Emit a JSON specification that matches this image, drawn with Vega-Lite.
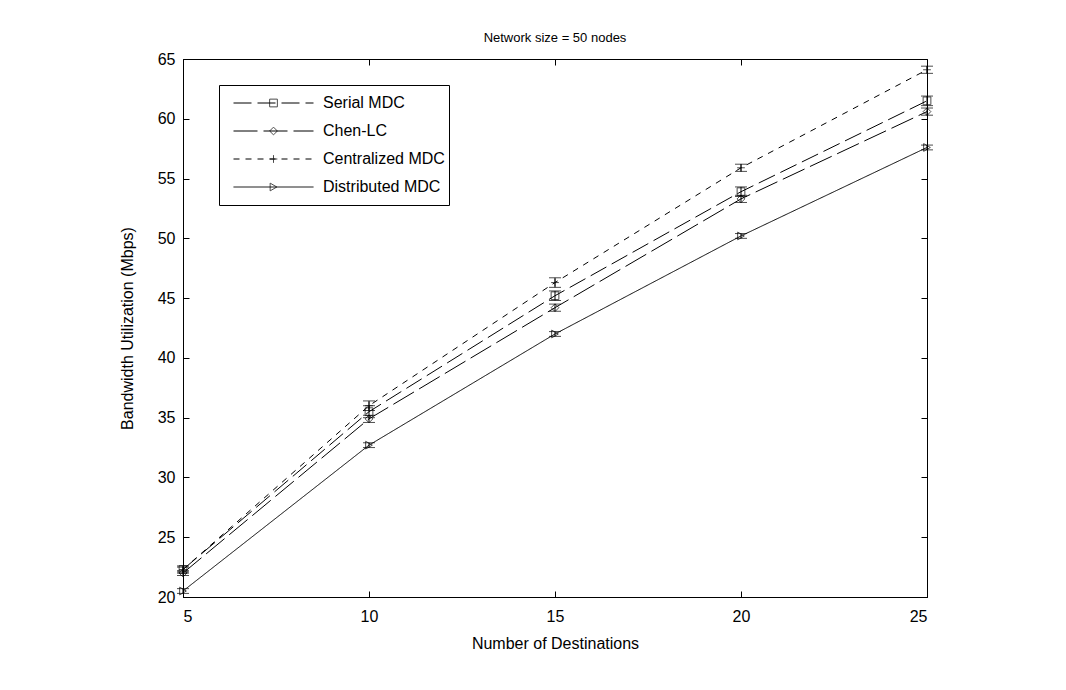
{
  "$schema": "https://vega.github.io/schema/vega-lite/v6.json",
  "width": 744,
  "height": 538,
  "autosize": "none",
  "padding": {"left": 183, "top": 59, "right": 139, "bottom": 93},
  "background": "white",
  "title": {"text": "Network size = 50 nodes", "fontSize": 13, "font": "Liberation Sans", "fontWeight": "normal", "color": "black", "offset": 6, "frame": "group", "anchor": "middle"},
  "data": {"values": [
    {"series": "Serial MDC", "x": 5, "y": 22.3, "err": 0.3},
    {"series": "Serial MDC", "x": 10, "y": 35.5, "err": 0.5},
    {"series": "Serial MDC", "x": 15, "y": 45.2, "err": 0.4},
    {"series": "Serial MDC", "x": 20, "y": 53.9, "err": 0.4},
    {"series": "Serial MDC", "x": 25, "y": 61.5, "err": 0.4},
    {"series": "Chen-LC", "x": 5, "y": 22.0, "err": 0.2},
    {"series": "Chen-LC", "x": 10, "y": 34.9, "err": 0.3},
    {"series": "Chen-LC", "x": 15, "y": 44.2, "err": 0.3},
    {"series": "Chen-LC", "x": 20, "y": 53.3, "err": 0.3},
    {"series": "Chen-LC", "x": 25, "y": 60.6, "err": 0.3},
    {"series": "Centralized MDC", "x": 5, "y": 22.3, "err": 0.2},
    {"series": "Centralized MDC", "x": 10, "y": 36.0, "err": 0.4},
    {"series": "Centralized MDC", "x": 15, "y": 46.3, "err": 0.4},
    {"series": "Centralized MDC", "x": 20, "y": 55.9, "err": 0.3},
    {"series": "Centralized MDC", "x": 25, "y": 64.1, "err": 0.3},
    {"series": "Distributed MDC", "x": 5, "y": 20.5, "err": 0.2},
    {"series": "Distributed MDC", "x": 10, "y": 32.7, "err": 0.2},
    {"series": "Distributed MDC", "x": 15, "y": 42.0, "err": 0.2},
    {"series": "Distributed MDC", "x": 20, "y": 50.2, "err": 0.2},
    {"series": "Distributed MDC", "x": 25, "y": 57.6, "err": 0.2}
  ]},
  "config": {
    "view": {"stroke": "black", "strokeWidth": 1},
    "axis": {
      "labelFont": "Liberation Sans", "titleFont": "Liberation Sans",
      "labelFontSize": 16, "titleFontSize": 16, "titleFontWeight": "normal",
      "labelColor": "black", "titleColor": "black",
      "domainColor": "black", "tickColor": "black", "grid": false,
      "tickSize": -6
    }
  },
  "layer": [
    {
      "mark": {"type": "line", "color": "black", "strokeWidth": 1},
      "encoding": {
        "x": {"field": "x", "type": "quantitative", "scale": {"domain": [5, 25], "nice": false}, "axis": {"values": [5, 10, 15, 20, 25], "title": "Number of Destinations", "labelPadding": 17, "titlePadding": 11}},
        "y": {"field": "y", "type": "quantitative", "scale": {"domain": [20, 65], "nice": false, "zero": false}, "axis": {"values": [20, 25, 30, 35, 40, 45, 50, 55, 60, 65], "title": "Bandwidth Utilization (Mbps)", "labelPadding": 14, "titlePadding": 22}},
        "strokeDash": {"field": "series", "type": "nominal",
          "scale": {"domain": ["Serial MDC", "Chen-LC", "Centralized MDC", "Distributed MDC"], "range": [[18, 6], [24, 6], [6, 6], [1, 0]]},
          "legend": {"orient": "none", "legendX": 36, "legendY": 26, "title": null, "symbolType": "stroke", "symbolSize": 6400, "symbolStrokeWidth": 1, "symbolStrokeColor": "black", "clipHeight": 28, "labelFontSize": 16, "labelFont": "Liberation Sans", "labelColor": "black", "labelOffset": 9, "padding": 4, "strokeColor": "black", "fillColor": "white", "rowPadding": 0, "symbolOffset": 10}}
      }
    },
    {
      "mark": {"type": "errorbar", "color": "black", "ticks": {"size": 12, "color": "black"}},
      "encoding": {
        "x": {"field": "x", "type": "quantitative", "scale": {"domain": [5, 25], "nice": false}, "axis": null},
        "y": {"field": "y", "type": "quantitative", "scale": {"domain": [20, 65], "nice": false, "zero": false}, "axis": null},
        "yError": {"field": "err"}
      }
    },
    {
      "mark": {"type": "point", "filled": false, "color": "black", "size": 60, "strokeWidth": 1},
      "encoding": {
        "x": {"field": "x", "type": "quantitative", "scale": {"domain": [5, 25], "nice": false}, "axis": null},
        "y": {"field": "y", "type": "quantitative", "scale": {"domain": [20, 65], "nice": false, "zero": false}, "axis": null},
        "shape": {"field": "series", "type": "nominal",
          "scale": {"domain": ["Serial MDC", "Chen-LC", "Centralized MDC", "Distributed MDC"], "range": ["square", "diamond", "M-1,0H1M0,-1V1", "triangle-right"]},
          "legend": {"orient": "top-left", "offset": 26, "title": null, "clipHeight": 28, "symbolSize": 60, "symbolStrokeWidth": 1, "symbolStrokeColor": "black", "symbolFillColor": "transparent", "labelExpr": "''", "labelFontSize": 1, "padding": 4, "rowPadding": 0, "symbolOffset": 56}}
      }
    },
    {
      "mark": {"type": "point", "opacity": 0},
      "encoding": {
        "x": {"field": "x", "type": "quantitative", "scale": {"domain": [5, 25], "nice": false}, "axis": {"orient": "top", "labels": false, "title": null, "values": [5, 10, 15, 20, 25], "domain": false}},
        "y": {"field": "y", "type": "quantitative", "scale": {"domain": [20, 65], "nice": false, "zero": false}, "axis": {"orient": "right", "labels": false, "title": null, "values": [20, 25, 30, 35, 40, 45, 50, 55, 60, 65], "domain": false}}
      }
    }
  ],
  "resolve": {"axis": {"x": "independent", "y": "independent"}}
}
